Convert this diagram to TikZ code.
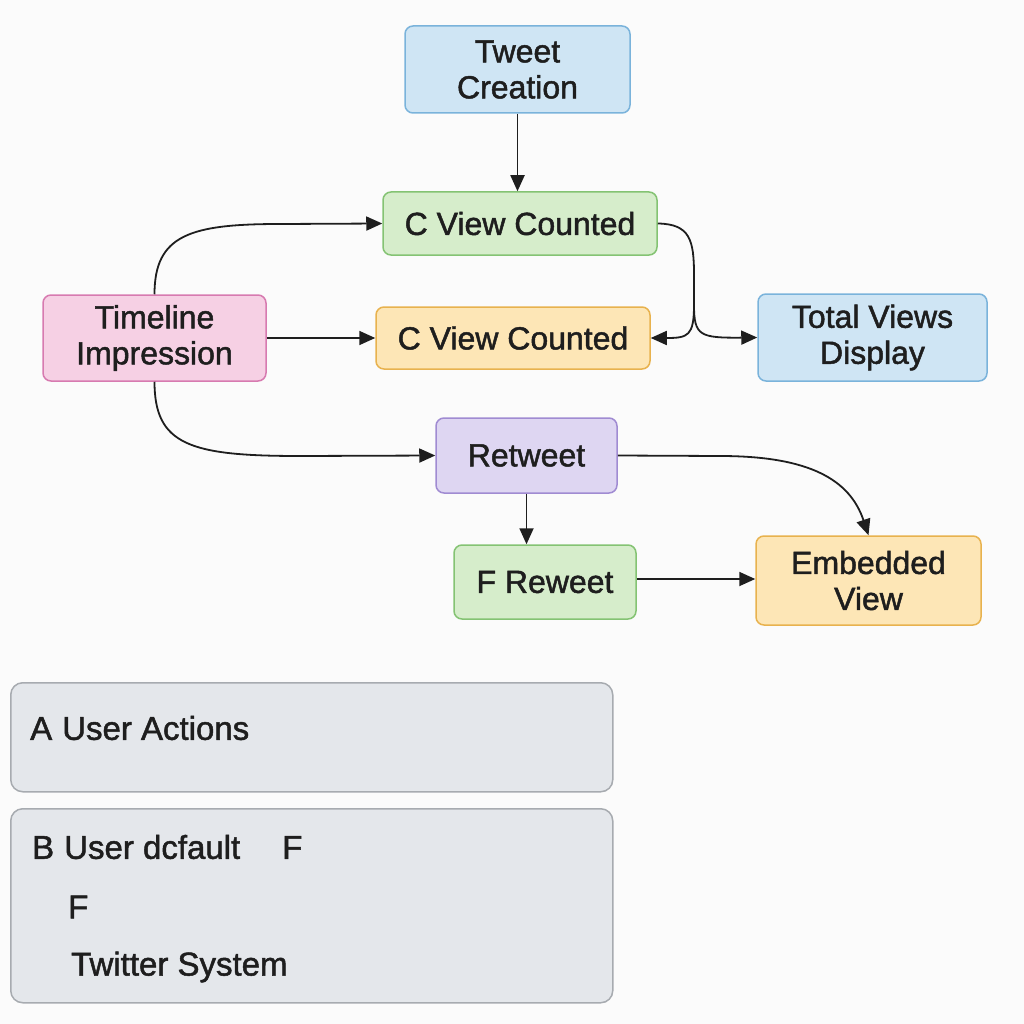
\documentclass[tikz,border=0pt]{standalone}
\usepackage{fontspec}
\setmainfont{Liberation Sans}[FakeBold=1.5]
\usetikzlibrary{arrows.meta}
\definecolor{bgc}{HTML}{FBFBFB}
\definecolor{bluef}{HTML}{CFE5F4}\definecolor{blued}{HTML}{7AB3DB}
\definecolor{greenf}{HTML}{D6EDCB}\definecolor{greend}{HTML}{84C373}
\definecolor{pinkf}{HTML}{F6D0E4}\definecolor{pinkd}{HTML}{D77AB0}
\definecolor{orangef}{HTML}{FDE6B6}\definecolor{oranged}{HTML}{E8B24E}
\definecolor{purplef}{HTML}{DED6F2}\definecolor{purpled}{HTML}{A08BD2}
\definecolor{grayf}{HTML}{E4E7EB}\definecolor{grayd}{HTML}{A7ABB0}
\definecolor{ink}{HTML}{1E1E1E}
\tikzset{
  box/.style={draw, line width=1.5pt, rounded corners=8pt, align=center, inner sep=0pt,
    font=\fontsize{32}{36}\selectfont, text=ink},
  bluebox/.style={box, fill=bluef, draw=blued},
  greenbox/.style={box, fill=greenf, draw=greend},
  pinkbox/.style={box, fill=pinkf, draw=pinkd},
  orangebox/.style={box, fill=orangef, draw=oranged},
  purplebox/.style={box, fill=purplef, draw=purpled},
  graybox/.style={draw=grayd, fill=grayf, line width=1.5pt, rounded corners=12pt},
  lbl/.style={anchor=west, inner sep=0pt, font=\fontsize{33}{36}\selectfont, text=ink},
  arr/.style={draw=ink, line width=1.8pt, -{Triangle[length=16pt,width=14pt]}},
  ln/.style={draw=ink, line width=1.8pt}
}
\begin{document}
\begin{tikzpicture}[x=1pt,y=-1pt]
\fill[bgc] (0,0) rectangle (1024,1024);
\useasboundingbox (0,0) rectangle (1024,1024);

\node[bluebox, minimum width=225pt, minimum height=87pt] (tc) at (517.5,69.5) {Tweet\\Creation};
\node[greenbox, minimum width=274pt, minimum height=63pt] (gc) at (520,223.5) {C View Counted};
\node[pinkbox, minimum width=223pt, minimum height=86pt] (tl) at (154.5,338) {Timeline\\Impression};
\node[orangebox, minimum width=274pt, minimum height=62pt] (oc) at (513,338) {C View Counted};
\node[bluebox, minimum width=229pt, minimum height=87pt] (tv) at (872.5,337.5) {Total Views\\Display};
\node[purplebox, minimum width=181pt, minimum height=75pt] (rt) at (526.5,455.5) {Retweet};
\node[greenbox, minimum width=182pt, minimum height=74pt] (fr) at (545,582) {F Reweet};
\node[orangebox, minimum width=225pt, minimum height=89pt] (ev) at (868.5,580.5) {Embedded\\View};

\draw[arr] (tc.south) -- (tc.south |- gc.north);
\draw[arr] (tl.north) .. controls (154.5,235) and (190,224) .. (280,224) -- (gc.west);
\draw[arr] (tl.east) -- (oc.west);
\draw[arr] (tl.south) .. controls (154.5,445) and (190,456) .. (300,456) -- (rt.west);
\coordinate (split) at (694,305);
\draw[ln] (gc.east) .. controls (690,224) and (694,240) .. (694,275) -- (split);
\draw[arr] (split) .. controls (694,336) and (688,338) .. (oc.east);
\draw[arr] (split) .. controls (694,336) and (700,338) .. (tv.west);
\draw[arr] (rt.east) -- (720,456) .. controls (810,456) and (850,480) .. (ev.north);
\draw[arr] (rt.south) -- (fr.north -| rt.south);
\draw[arr] ([yshift=3pt]fr.east) -- ([yshift=3pt]fr.east -| ev.west);

\node[graybox, minimum width=602pt, minimum height=109pt, anchor=north west] (ga) at (10,682) {};
\node[graybox, minimum width=602pt, minimum height=194pt, anchor=north west] (gb) at (10,808) {};
\node[lbl] (la) at (30,728) {A\hspace{10pt}User Actions};
\node[lbl] (lb) at (32,847) {B\hspace{10pt}User dcfault\hspace{42pt}F};
\node[lbl] (lf) at (68,907) {F};
\node[lbl] (lt) at (71,967) {Twitter System};
\end{tikzpicture}
\end{document}
